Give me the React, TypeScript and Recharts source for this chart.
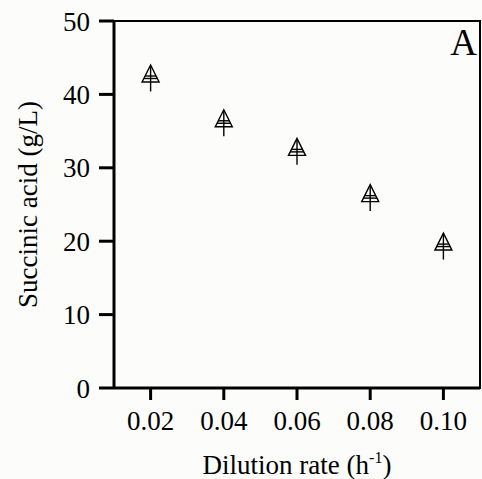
import { ScatterChart, Scatter, XAxis, YAxis, ErrorBar, ReferenceArea, Label } from 'recharts'

// dilution rate (1/h) vs succinic acid titre (g/L)
const DILUTION = [0.02, 0.04, 0.06, 0.08, 0.10]
const SUCCINIC = [42.1, 36.0, 32.1, 25.8, 19.2]
const SUCCINIC_ERR = [1.7, 1.7, 1.7, 1.7, 1.7]

const X_TICKS = [0.02, 0.04, 0.06, 0.08, 0.10]
const X_MINOR = [0.03, 0.05, 0.07, 0.09]
const X_TOP = [0.02, 0.03, 0.04, 0.05, 0.06, 0.07, 0.08, 0.09, 0.10]
const Y_TICKS = [0, 10, 20, 30, 40, 50]
const Y_MINOR = [5, 15, 25, 35, 45]

const FONT = '"Liberation Serif", "Times New Roman", serif'
const INK = '#000'

const data = DILUTION.map((d, i) => ({ d, s: SUCCINIC[i], err: SUCCINIC_ERR[i] }))

// open triangle with a crossbar, Origin style
function TriangleMark({ cx, cy }: { cx?: number, cy?: number }) {
  if (cx == null || cy == null) return null
  const top = cy - 14, base = cy + 3, hw = 8.5
  const halfAt = (y: number) => hw * (y - top) / (base - top)
  const l1 = cy - 3, l2 = cy - 0.5
  return (
    <g stroke={INK} strokeWidth={1.4} fill="none">
      <path d={`M${cx},${top} L${cx + hw},${base} L${cx - hw},${base} Z`} />
      <line x1={cx - halfAt(l1)} x2={cx + halfAt(l1)} y1={l1} y2={l1} />
      <line x1={cx - halfAt(l2)} x2={cx + halfAt(l2)} y1={l2} y2={l2} />
    </g>
  )
}

function XTitle({ viewBox }: any) {
  const cx = viewBox.x + viewBox.width / 2
  return (
    <text x={cx} y={474} textAnchor="middle" fontFamily={FONT} fontSize={27} fill={INK}>
      Dilution rate (h<tspan dy={-11} fontSize={16}>-1</tspan><tspan dy={11}>)</tspan>
    </text>
  )
}

function YTitle({ viewBox }: any) {
  const cy = viewBox.y + viewBox.height / 2
  return (
    <text x={37} y={cy} transform={`rotate(-90, 37, ${cy})`} textAnchor="middle"
          fontFamily={FONT} fontSize={27} fill={INK}>
      Succinic acid (g/L)
    </text>
  )
}

function PanelTag({ viewBox }: any) {
  return (
    <text x={viewBox.x + viewBox.width - 3} y={55} textAnchor="end"
          fontFamily={FONT} fontSize={37} fill={INK}>A</text>
  )
}

export default function App() {
  const tickStyle = { fontFamily: FONT, fontSize: 27, fill: INK }
  return (
    <div style={{ position: 'absolute', left: 0, top: 0, width: 482, height: 479, background: '#fcfdfa' }}>
      <ScatterChart width={482} height={479} margin={{ top: 21, right: 2, bottom: 0, left: 0 }}>
        <ReferenceArea x1={0.01} x2={0.11} y1={0} y2={50} fill="none" stroke={INK} strokeWidth={2}
                       ifOverflow="visible">
          <Label content={PanelTag} />
        </ReferenceArea>

        <XAxis dataKey="d" type="number" domain={[0.01, 0.11]} ticks={X_TICKS} height={91}
               tickFormatter={(v: number) => v.toFixed(2)}
               axisLine={{ stroke: INK, strokeWidth: 3 }}
               tickLine={{ stroke: INK, strokeWidth: 3 }} tickSize={12} tickMargin={11}
               tick={tickStyle}>
          <Label content={XTitle} />
        </XAxis>
        <XAxis xAxisId="minor" type="number" domain={[0.01, 0.11]} ticks={X_MINOR} mirror
               axisLine={false} tickLine={{ stroke: INK, strokeWidth: 2 }} tickSize={3} tick={false} />
        <XAxis xAxisId="top" orientation="top" type="number" domain={[0.01, 0.11]} ticks={X_TOP} mirror
               axisLine={false} tickLine={{ stroke: INK, strokeWidth: 1.5 }} tickSize={2} tick={false} />

        <YAxis dataKey="s" type="number" domain={[0, 50]} ticks={Y_TICKS} width={114}
               axisLine={{ stroke: INK, strokeWidth: 3 }}
               tickLine={{ stroke: INK, strokeWidth: 3 }} tickSize={15} tickMargin={9}
               tick={tickStyle}>
          <Label content={YTitle} />
        </YAxis>
        <YAxis yAxisId="minor" type="number" domain={[0, 50]} ticks={Y_MINOR} mirror
               axisLine={false} tickLine={{ stroke: INK, strokeWidth: 2 }} tickSize={3} tick={false} />

        <Scatter data={data} shape={TriangleMark} isAnimationActive={false}>
          <ErrorBar dataKey="err" direction="y" width={0} stroke={INK} strokeWidth={1.4}
                    isAnimationActive={false} />
        </Scatter>
      </ScatterChart>
    </div>
  )
}
